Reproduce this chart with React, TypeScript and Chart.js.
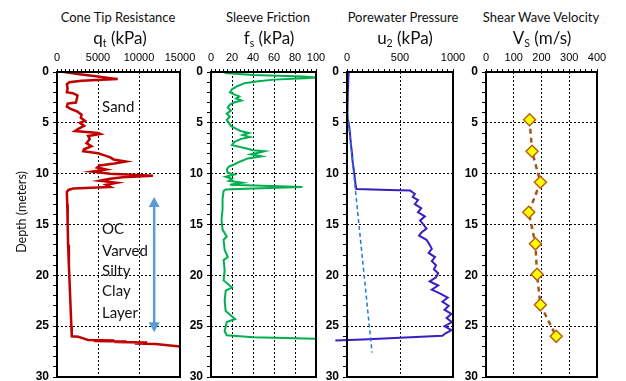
import React, { useEffect, useRef } from 'react';
import { Chart, registerables } from 'chart.js';

Chart.register(...registerables);

// ---------------- data ----------------
const depthTicks = [0, 5, 10, 15, 20, 25, 30];

const qtDepth = [0, 0.2, 0.45, 0.7, 0.85, 1.0, 1.2, 1.6, 2.0, 2.1, 2.3, 2.7, 3.0, 3.1, 3.4, 3.6, 3.9, 4.2, 4.5, 4.8, 5.0, 5.3, 5.6, 5.8, 6.0, 6.1, 6.3, 6.6, 7.0, 7.3, 7.6, 7.8, 8.0, 8.2, 8.4, 8.6, 8.8, 9.0, 9.2, 9.4, 9.6, 9.8, 10.0, 10.2, 10.35, 10.5, 10.7, 10.9, 11.1, 11.3, 11.45, 11.6, 11.8, 13, 15, 17, 19, 21, 23, 25, 26.0, 26.05, 26.2, 26.35, 26.4, 26.45, 26.5, 26.55, 26.6, 26.7, 26.75, 27.0, 27.2];
const qtValues = [900, 2500, 5000, 7400, 3000, 1500, 1200, 1300, 1200, 2000, 2500, 2400, 2300, 1300, 1200, 1600, 2500, 3000, 2900, 3400, 2800, 3300, 2600, 2200, 5000, 5300, 3800, 4000, 3600, 4200, 3300, 3200, 5000, 5800, 6500, 6900, 8400, 7000, 5200, 4900, 6000, 4300, 6500, 11700, 8000, 6500, 5200, 7300, 6000, 6500, 2000, 1400, 1200, 1250, 1300, 1350, 1450, 1550, 1650, 1750, 1800, 2600, 3200, 3800, 7000, 4500, 8500, 7000, 11000, 9500, 12000, 15000, 17500];

const fsDepth = [0.1, 0.3, 0.45, 0.55, 0.62, 0.75, 0.9, 1.1, 1.4, 1.7, 2.0, 2.2, 2.4, 2.6, 2.8, 3.0, 3.2, 3.5, 3.8, 4.1, 4.4, 4.7, 5.0, 5.3, 5.6, 5.8, 6.0, 6.2, 6.4, 6.6, 6.9, 7.2, 7.5, 7.7, 7.8, 7.95, 8.1, 8.3, 8.5, 8.8, 9.1, 9.3, 9.6, 9.9, 10.1, 10.3, 10.5, 10.7, 10.9, 11.1, 11.3, 11.45, 11.55, 11.7, 12.5, 13.5, 14.5, 15.5, 16.2, 16.5, 17.5, 18.2, 18.5, 19.5, 20.5, 21.2, 21.5, 22.5, 23.5, 24.3, 24.6, 25.5, 25.9, 26.1, 26.25, 26.3];
const fsValues = [13, 40, 88, 100, 90, 60, 45, 32, 25, 20, 18, 22, 27, 24, 29, 22, 18, 16, 19, 15, 18, 15, 17, 19, 24, 28, 36, 30, 37, 28, 22, 20, 33, 40, 51, 45, 38, 48, 35, 28, 22, 17, 15, 16, 22, 14, 20, 17, 30, 18, 87, 40, 14, 12, 11, 11, 10, 11, 15, 12, 13, 16, 12, 13, 12, 20, 14, 13, 14, 23, 15, 13, 15, 40, 100, 105];

const u2Depth = [0, 1, 2, 3, 4, 4.5, 5, 6, 7, 8, 9, 10, 11, 11.5, 11.6, 11.65, 12, 12.3, 12.6, 13, 13.4, 13.8, 14.2, 14.6, 15, 15.4, 15.8, 16.1, 16.5, 17, 17.4, 17.8, 18.2, 18.6, 19, 19.4, 19.8, 20.2, 20.6, 21, 21.4, 21.8, 22.2, 22.6, 23, 23.4, 23.8, 24.2, 24.6, 25, 25.4, 25.7, 25.95, 26.15, 26.3, 26.4];
const u2Values = [15, 12, 8, 4, 0, 5, 16, 28, 36, 47, 55, 69, 80, 88, 400, 595, 640, 620, 670, 640, 700, 670, 735, 690, 720, 750, 700, 680, 750, 780, 800, 770, 830, 800, 840, 820, 860, 840, 780, 860, 800, 880, 950, 900, 960, 920, 985, 940, 990, 920, 985, 930, 900, 500, 150, -110];

const u0Depth = [3.5, 27.6];
const u0Values = [0, 236];

const vsDepth = [4.7, 7.8, 10.85, 13.8, 16.9, 19.9, 22.9, 26.0];
const vsValues = [157, 166, 196, 154, 178, 184, 196, 253];

const soilLabels = ['Sand', 'OC', 'Varved', 'Silty', 'Clay', 'Layer'];
const soilLabelDepths = [3.45, 15.5, 17.6, 19.6, 21.6, 23.7];
const soilLabelQt = [5500, 5500, 5500, 5500, 5500, 5500];
const arrowQt = 11850;
const arrowDepths = [12.3, 25.6];

// ---------------- helpers ----------------
const pts = (xs: number[], ys: number[]) => xs.map((v, i) => ({ x: v, y: ys[i] }));

const TOP = 72;
const BOTTOM = 377;
const YW = 35;
const XH = 30;
const PAD_R = 25;
const PAD_B = 15;

const boxPlugin = {
  id: 'box',
  afterDatasetsDraw(chart: any) {
    const { ctx, chartArea: a } = chart;
    ctx.save();
    ctx.strokeStyle = '#000';
    ctx.lineWidth = 2;
    ctx.strokeRect(a.left, a.top, a.right - a.left, a.bottom - a.top);
    ctx.restore();
  },
};

const annotPlugin = {
  id: 'annot',
  afterDatasetsDraw(chart: any) {
    const { ctx } = chart;
    const x = chart.scales.x;
    const y = chart.scales.y;
    ctx.save();
    ctx.font = '15px Lato';
    ctx.fillStyle = '#111';
    ctx.textBaseline = 'middle';
    ctx.textAlign = 'left';
    soilLabels.forEach((t, i) => {
      ctx.fillText(t, x.getPixelForValue(soilLabelQt[i]), y.getPixelForValue(soilLabelDepths[i]));
    });
    const ax = x.getPixelForValue(arrowQt);
    const y1 = y.getPixelForValue(arrowDepths[0]);
    const y2 = y.getPixelForValue(arrowDepths[1]);
    const hl = 10;
    const hw = 5.5;
    ctx.strokeStyle = '#5B9BD5';
    ctx.fillStyle = '#5B9BD5';
    ctx.lineWidth = 2.5;
    ctx.beginPath();
    ctx.moveTo(ax, y1 + hl - 1);
    ctx.lineTo(ax, y2 - hl + 1);
    ctx.stroke();
    ctx.beginPath();
    ctx.moveTo(ax, y1);
    ctx.lineTo(ax - hw, y1 + hl);
    ctx.lineTo(ax + hw, y1 + hl);
    ctx.closePath();
    ctx.fill();
    ctx.beginPath();
    ctx.moveTo(ax, y2);
    ctx.lineTo(ax - hw, y2 - hl);
    ctx.lineTo(ax + hw, y2 - hl);
    ctx.closePath();
    ctx.fill();
    ctx.restore();
  },
};

type Spec = {
  left: number;
  right: number;
  max: number;
  major: number;
  minor: number;
  datasets: any[];
  plugins: any[];
};

const lineDs = (data: any[], color: string, width: number, extra: any = {}) => ({
  data,
  showLine: true,
  borderColor: color,
  backgroundColor: color,
  borderWidth: width,
  pointRadius: 0,
  tension: 0,
  ...extra,
});

const specs: Spec[] = [
  {
    left: 57, right: 180, max: 15000, major: 5000, minor: 500,
    datasets: [lineDs(pts(qtValues, qtDepth), '#C00000', 2.5)],
    plugins: [annotPlugin],
  },
  {
    left: 211, right: 316, max: 100, major: 20, minor: 4,
    datasets: [lineDs(pts(fsValues, fsDepth), '#00B050', 2)],
    plugins: [],
  },
  {
    left: 347, right: 453, max: 1000, major: 500, minor: 50,
    datasets: [
      lineDs(pts(u0Values, u0Depth), '#1F78D1', 1.5, { borderDash: [4, 3] }),
      lineDs(pts(u2Values, u2Depth), '#3A1DC4', 2, { clip: false }),
    ],
    plugins: [],
  },
  {
    left: 486, right: 597, max: 400, major: 100, minor: 20,
    datasets: [
      lineDs(pts(vsValues, vsDepth), '#A5561B', 2.5, {
        borderDash: [5, 4],
        pointStyle: 'rectRot',
        pointRadius: 6,
        pointBackgroundColor: '#FFFF00',
        pointBorderColor: '#B8620F',
        pointBorderWidth: 1.5,
      }),
    ],
    plugins: [],
  },
];

function Panel({ spec }: { spec: Spec }) {
  const ref = useRef<HTMLCanvasElement | null>(null);
  const w = spec.right - spec.left + YW + PAD_R;
  const h = BOTTOM - TOP + XH + PAD_B;
  useEffect(() => {
    if (!ref.current) return;
    const chart = new Chart(ref.current, {
      type: 'scatter',
      data: { datasets: spec.datasets },
      options: {
        responsive: false,
        animation: false,
        devicePixelRatio: 1,
        layout: { padding: { left: 0, top: 0, right: PAD_R, bottom: PAD_B } },
        plugins: { legend: { display: false }, tooltip: { enabled: false }, title: { display: false } },
        scales: {
          x: {
            type: 'linear',
            position: 'top',
            min: 0,
            max: spec.max,
            afterFit: (s: any) => { s.height = XH; },
            ticks: {
              stepSize: spec.minor,
              autoSkip: false,
              maxRotation: 0,
              minRotation: 0,
              padding: 4,
              color: '#000',
              font: { family: 'Liberation Sans', size: 11 },
              callback: (v: any) => (Math.abs(v % spec.major) < 1e-9 ? String(v) : ''),
            },
            grid: {
              color: (c: any) => {
                const v = c.tick ? c.tick.value : NaN;
                return Math.abs(v % spec.major) < 1e-9 && v > 0 && v < spec.max ? '#000' : 'rgba(0,0,0,0)';
              },
              tickColor: '#000',
              tickLength: 3,
              lineWidth: 1,
            },
            border: { display: false, dash: [2, 2] },
          },
          y: {
            type: 'linear',
            reverse: true,
            min: 0,
            max: 30,
            afterFit: (s: any) => { s.width = YW; },
            ticks: {
              stepSize: 1,
              autoSkip: false,
              padding: 4,
              color: '#000',
              font: { family: 'Liberation Sans', size: 12, weight: 'bold' },
              callback: (v: any) => (depthTicks.includes(v) ? String(v) : ''),
            },
            grid: {
              color: (c: any) => {
                const v = c.tick ? c.tick.value : NaN;
                return depthTicks.includes(v) && v > 0 && v < 30 ? '#000' : 'rgba(0,0,0,0)';
              },
              tickColor: '#000',
              tickLength: 4,
              lineWidth: 1,
            },
            border: { display: false, dash: [2, 2] },
          },
        },
      } as any,
      plugins: [boxPlugin, ...spec.plugins],
    });
    return () => chart.destroy();
  }, []);
  return (
    <canvas
      ref={ref}
      width={w}
      height={h}
      style={{ position: 'absolute', left: spec.left - YW, top: TOP - XH, width: w, height: h }}
    />
  );
}

const titleFont = 'Lato, "Open Sans", sans-serif';

function Title({ cx, cy, size, children }: any) {
  return (
    <div
      style={{
        position: 'absolute',
        left: cx - 100,
        top: cy - 11,
        width: 200,
        height: 22,
        lineHeight: '22px',
        textAlign: 'center',
        fontFamily: titleFont,
        fontSize: size,
        color: '#111',
        whiteSpace: 'nowrap',
      }}
    >
      {children}
    </div>
  );
}

const Sub = ({ children }: any) => (
  <span style={{ fontSize: '0.62em', position: 'relative', top: '0.3em' }}>{children}</span>
);

export default function App() {
  return (
    <div style={{ position: 'absolute', left: 0, top: 0, width: 626, height: 381, overflow: 'hidden', background: '#fff' }}>
      {specs.map((s, i) => (
        <Panel key={i} spec={s} />
      ))}
      <Title cx={118} cy={17} size={13}>Cone Tip Resistance</Title>
      <Title cx={268} cy={17} size={13}>Sleeve Friction</Title>
      <Title cx={403} cy={17} size={13}>Porewater Pressure</Title>
      <Title cx={541} cy={17} size={13}>Shear Wave Velocity</Title>
      <Title cx={120} cy={38} size={17}>q<Sub>t</Sub> (kPa)</Title>
      <Title cx={269} cy={38} size={17}>f<Sub>s</Sub> (kPa)</Title>
      <Title cx={405} cy={38} size={17}>u<Sub>2</Sub> (kPa)</Title>
      <Title cx={542} cy={38} size={17}>V<Sub>S</Sub> (m/s)</Title>
      <div
        style={{
          position: 'absolute',
          left: 22 - 60,
          top: 212 - 8,
          width: 120,
          height: 16,
          lineHeight: '16px',
          textAlign: 'center',
          fontFamily: titleFont,
          fontSize: 12.5,
          color: '#111',
          transform: 'rotate(-90deg)',
          whiteSpace: 'nowrap',
        }}
      >
        Depth (meters)
      </div>
    </div>
  );
}
